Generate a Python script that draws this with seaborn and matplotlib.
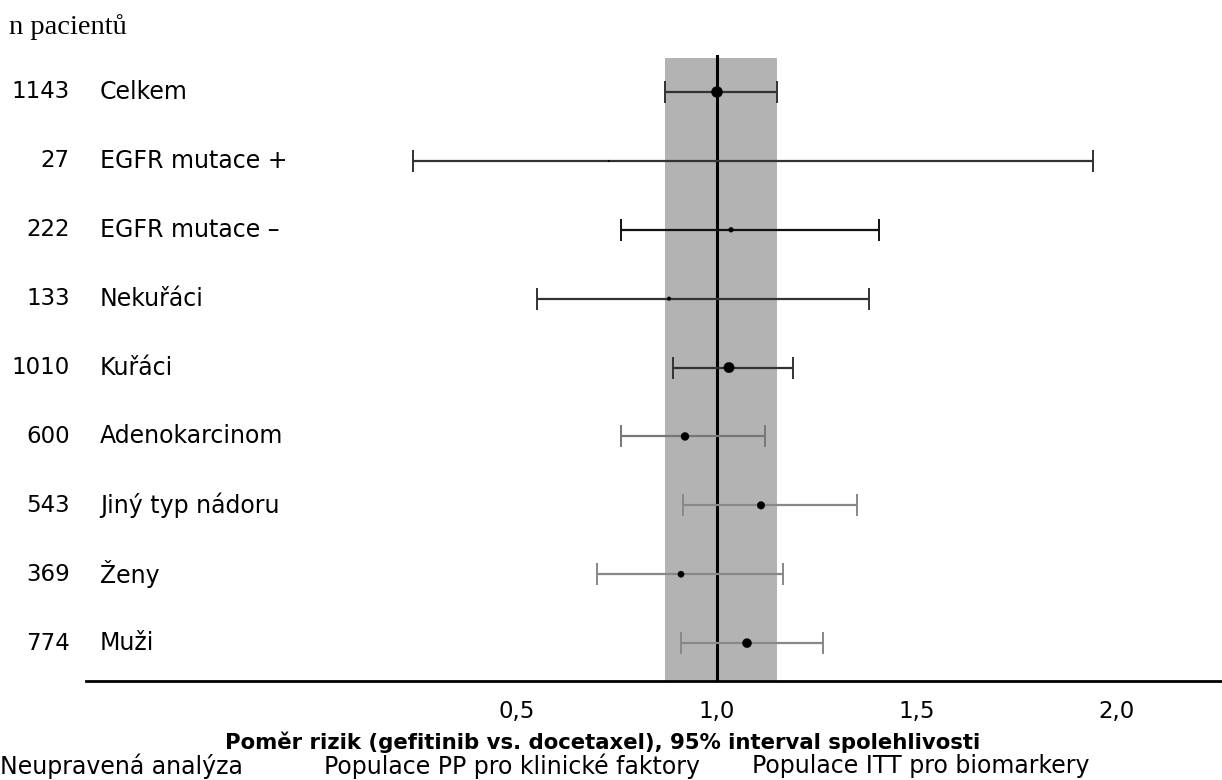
import seaborn as sns
import matplotlib.pyplot as plt
import matplotlib.transforms as mtrans
import pandas as pd

# values
groups = ["Celkem", "EGFR mutace +", "EGFR mutace \u2013", "Nekuřáci", "Kuřáci",
          "Adenokarcinom", "Jiný typ nádoru", "Ženy", "Muži"]
n_pts = [1143, 27, 222, 133, 1010, 600, 543, 369, 774]
hr = [1.00, 0.73, 1.035, 0.88, 1.03, 0.92, 1.11, 0.91, 1.075]
ci_low = [0.87, 0.24, 0.76, 0.55, 0.89, 0.76, 0.915, 0.70, 0.91]
ci_high = [1.15, 1.94, 1.405, 1.38, 1.19, 1.12, 1.35, 1.165, 1.265]
bar_col = ["#333333", "#333333", "#111111", "#333333", "#333333",
           "#777777", "#888888", "#888888", "#888888"]
ticks = [0.5, 1.0, 1.5, 2.0]
tick_labels = ["0,5", "1,0", "1,5", "2,0"]

df = pd.DataFrame({"group": groups, "n": n_pts, "hr": hr,
                   "lo": ci_low, "hi": ci_high, "row": range(len(groups))})

sns.set_style("white")
plt.rcParams['font.family'] = ['DejaVu Sans']
plt.rcParams['text.color'] = 'black'
plt.rcParams['xtick.color'] = 'black'
fs = 16.5

fig = plt.figure(figsize=(12.22, 7.8), dpi=100)
ax = fig.add_axes([86 / 1222, 1 - 681 / 780, 1 - 86 / 1222, (681 - 55) / 780])

# shaded band = overall CI
ax.axvspan(ci_low[0], ci_high[0], ymin=0, ymax=0.995, color="#b3b3b3", lw=0, zorder=0)
ax.axvline(1.0, color="black", lw=2.2, zorder=1)

for i, r in df.iterrows():
    ax.errorbar(r["hr"], r["row"], xerr=[[r["hr"] - r["lo"]], [r["hi"] - r["hr"]]],
                fmt="none", ecolor=bar_col[i], elinewidth=1.6, capsize=8, capthick=1.4,
                zorder=2)

sns.scatterplot(data=df, x="hr", y="row", size="n", sizes=(1.5, 65),
                size_norm=(27, 1143), color="black", edgecolor="black",
                legend=False, ax=ax, zorder=3)

ax.set_xlim((86 - 317) / 400, (1222 - 317) / 400)
ax.set_ylim(8.55, -0.537)
ax.set_xticks(ticks)
ax.set_xticklabels(tick_labels, fontsize=fs)
ax.tick_params(axis="x", length=0, pad=14)
ax.set_yticks([])
ax.set_xlabel("")
ax.set_ylabel("")
sns.despine(ax=ax, left=True)
ax.spines["bottom"].set_linewidth(2)
ax.spines["bottom"].set_color("black")

trans = mtrans.blended_transform_factory(fig.transFigure, ax.transData)
for i, r in df.iterrows():
    ax.text(70 / 1222, r["row"], str(r["n"]), transform=trans, ha="right",
            va="center", fontsize=fs, clip_on=False)
    ax.text(100 / 1222, r["row"], r["group"], transform=trans, ha="left",
            va="center", fontsize=17, clip_on=False)

fig.text(9 / 1222, 1 - 27 / 780, "n pacientů", family="Liberation Serif",
         fontsize=20.5, va="center")

fig.text(603 / 1222, 1 - 742 / 780,
         "Poměr rizik (gefitinib vs. docetaxel), 95% interval spolehlivosti",
         fontsize=15.3, fontweight="bold", ha="center", va="center")

fig.text(0 / 1222, 1 - 766 / 780, "Neupravená analýza", fontsize=17, va="center")
fig.text(324 / 1222, 1 - 766 / 780, "Populace PP pro klinické faktory", fontsize=17, va="center")
fig.text(752 / 1222, 1 - 766 / 780, "Populace ITT pro biomarkery", fontsize=17, va="center")

fig.savefig("out.png", dpi=100)
